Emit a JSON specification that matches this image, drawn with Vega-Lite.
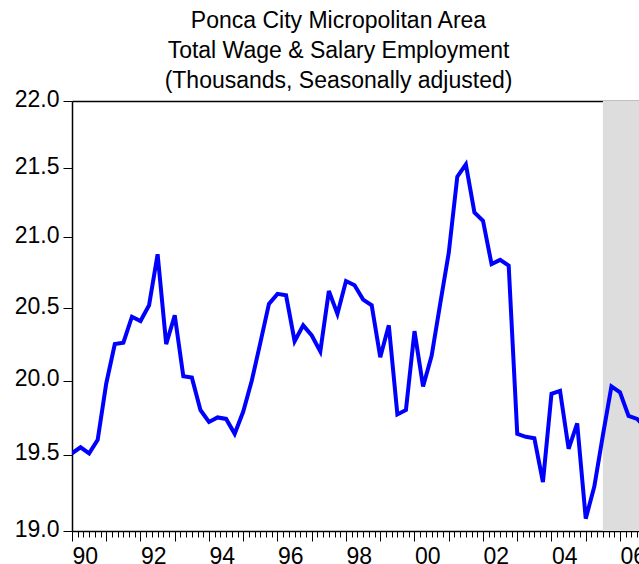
{
  "$schema": "https://vega.github.io/schema/vega-lite/v6.json",
  "width": 567,
  "height": 430,
  "autosize": {"type": "none"},
  "padding": {"left": 72, "top": 101, "right": 0, "bottom": 33},
  "title": {
    "text": ["Ponca City Micropolitan Area", "Total Wage & Salary Employment", "(Thousands, Seasonally adjusted)"],
    "font": "Liberation Sans",
    "fontSize": 23,
    "fontWeight": "normal",
    "color": "black",
    "lineHeight": 30,
    "anchor": "middle",
    "frame": "group",
    "dx": -17,
    "offset": -5
  },
  "config": {
    "view": {"stroke": null},
    "font": "Liberation Sans",
    "axis": {
      "labelFont": "Liberation Sans",
      "labelFontSize": 23,
      "labelColor": "black",
      "domainColor": "black",
      "domainWidth": 1.5,
      "tickColor": "black",
      "tickWidth": 1,
      "grid": false,
      "title": null
    }
  },
  "resolve": {"axis": {"x": "independent"}},
  "layer": [
    {
      "data": {"values": [{"start": 2005.5, "end": 2007}]},
      "mark": {"type": "rect", "color": "#DDDDDD", "clip": true},
      "encoding": {
        "x": {
          "field": "start",
          "type": "quantitative",
          "scale": {"domain": [1990, 2006.555], "nice": false, "zero": false},
          "axis": {"orient": "top", "labels": false, "ticks": false, "title": null, "grid": false}
        },
        "x2": {"field": "end"}
      }
    },
    {
      "data": {"values": [
        {"date": 1990.00, "value": 19.51},
        {"date": 1990.25, "value": 19.55},
        {"date": 1990.50, "value": 19.51},
        {"date": 1990.75, "value": 19.60},
        {"date": 1991.00, "value": 19.98},
        {"date": 1991.25, "value": 20.25},
        {"date": 1991.50, "value": 20.26},
        {"date": 1991.75, "value": 20.44},
        {"date": 1992.00, "value": 20.41},
        {"date": 1992.25, "value": 20.52},
        {"date": 1992.50, "value": 20.88},
        {"date": 1992.75, "value": 20.25},
        {"date": 1993.00, "value": 20.45},
        {"date": 1993.25, "value": 20.03},
        {"date": 1993.50, "value": 20.02},
        {"date": 1993.75, "value": 19.80},
        {"date": 1994.00, "value": 19.72},
        {"date": 1994.25, "value": 19.75},
        {"date": 1994.50, "value": 19.74},
        {"date": 1994.75, "value": 19.64},
        {"date": 1995.00, "value": 19.79},
        {"date": 1995.25, "value": 20.00},
        {"date": 1995.50, "value": 20.26},
        {"date": 1995.75, "value": 20.53},
        {"date": 1996.00, "value": 20.60},
        {"date": 1996.25, "value": 20.59},
        {"date": 1996.50, "value": 20.27},
        {"date": 1996.75, "value": 20.38},
        {"date": 1997.00, "value": 20.31},
        {"date": 1997.25, "value": 20.20},
        {"date": 1997.50, "value": 20.62},
        {"date": 1997.75, "value": 20.46},
        {"date": 1998.00, "value": 20.69},
        {"date": 1998.25, "value": 20.66},
        {"date": 1998.50, "value": 20.56},
        {"date": 1998.75, "value": 20.52},
        {"date": 1999.00, "value": 20.16},
        {"date": 1999.25, "value": 20.38},
        {"date": 1999.50, "value": 19.77},
        {"date": 1999.75, "value": 19.80},
        {"date": 2000.00, "value": 20.34},
        {"date": 2000.25, "value": 19.96},
        {"date": 2000.50, "value": 20.17},
        {"date": 2000.75, "value": 20.53},
        {"date": 2001.00, "value": 20.89},
        {"date": 2001.25, "value": 21.44},
        {"date": 2001.50, "value": 21.53},
        {"date": 2001.75, "value": 21.18},
        {"date": 2002.00, "value": 21.12},
        {"date": 2002.25, "value": 20.81},
        {"date": 2002.50, "value": 20.84},
        {"date": 2002.75, "value": 20.80},
        {"date": 2003.00, "value": 19.64},
        {"date": 2003.25, "value": 19.62},
        {"date": 2003.50, "value": 19.61},
        {"date": 2003.75, "value": 19.32},
        {"date": 2004.00, "value": 19.91},
        {"date": 2004.25, "value": 19.93},
        {"date": 2004.50, "value": 19.54},
        {"date": 2004.75, "value": 19.71},
        {"date": 2005.00, "value": 19.08},
        {"date": 2005.25, "value": 19.29},
        {"date": 2005.50, "value": 19.63},
        {"date": 2005.75, "value": 19.96},
        {"date": 2006.00, "value": 19.92},
        {"date": 2006.25, "value": 19.76},
        {"date": 2006.50, "value": 19.74},
        {"date": 2006.75, "value": 19.68}
      ]},
      "mark": {"type": "line", "color": "#0000FF", "strokeWidth": 4, "clip": true},
      "encoding": {
        "x": {
          "field": "date",
          "type": "quantitative",
          "axis": {
            "orient": "bottom",
            "title": null,
            "values": [1990, 1990.1667, 1990.3333, 1990.5, 1990.6667, 1990.8333,
                       1991, 1991.1667, 1991.3333, 1991.5, 1991.6667, 1991.8333,
                       1992, 1992.1667, 1992.3333, 1992.5, 1992.6667, 1992.8333,
                       1993, 1993.1667, 1993.3333, 1993.5, 1993.6667, 1993.8333,
                       1994, 1994.1667, 1994.3333, 1994.5, 1994.6667, 1994.8333,
                       1995, 1995.1667, 1995.3333, 1995.5, 1995.6667, 1995.8333,
                       1996, 1996.1667, 1996.3333, 1996.5, 1996.6667, 1996.8333,
                       1997, 1997.1667, 1997.3333, 1997.5, 1997.6667, 1997.8333,
                       1998, 1998.1667, 1998.3333, 1998.5, 1998.6667, 1998.8333,
                       1999, 1999.1667, 1999.3333, 1999.5, 1999.6667, 1999.8333,
                       2000, 2000.1667, 2000.3333, 2000.5, 2000.6667, 2000.8333,
                       2001, 2001.1667, 2001.3333, 2001.5, 2001.6667, 2001.8333,
                       2002, 2002.1667, 2002.3333, 2002.5, 2002.6667, 2002.8333,
                       2003, 2003.1667, 2003.3333, 2003.5, 2003.6667, 2003.8333,
                       2004, 2004.1667, 2004.3333, 2004.5, 2004.6667, 2004.8333,
                       2005, 2005.1667, 2005.3333, 2005.5, 2005.6667, 2005.8333,
                       2006, 2006.1667, 2006.3333, 2006.5],
            "labelExpr": "datum.value % 2 === 0 ? substring(toString(datum.value), 2, 4) : ''",
            "labelAlign": "left",
            "labelBaseline": "top",
            "labelPadding": 4,
            "labelOverlap": false,
            "labelFlush": false,
            "labelBound": false,
            "tickSize": {"condition": {"test": "datum.value % 1 !== 0", "value": 6}, "value": 10}
          }
        },
        "y": {
          "field": "value",
          "type": "quantitative",
          "scale": {"type": "log", "domain": [19, 22], "nice": false},
          "axis": {
            "title": null,
            "values": [19, 19.5, 20, 20.5, 21, 21.5, 22],
            "format": ".1f",
            "tickSize": 9,
            "labelPadding": 4,
            "labelOffset": -2
          }
        }
      }
    }
  ]
}
